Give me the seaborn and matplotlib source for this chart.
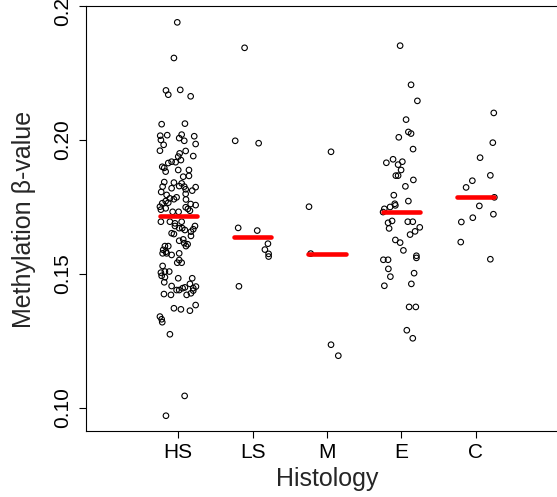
import numpy as np
import pandas as pd
import matplotlib
matplotlib.use('Agg')
import matplotlib.pyplot as plt
import seaborn as sns

# groups on the x axis
groups = ['HS', 'LS', 'M', 'E', 'C']

# methylation beta values per group
hs_vals = [0.2439, 0.2306, 0.2185, 0.2169, 0.2187, 0.2163, 0.2059, 0.2061, 0.2016, 0.2018,
           0.2020, 0.2007, 0.1997, 0.2014, 0.2000, 0.1982, 0.1985, 0.1960, 0.1950, 0.1959,
           0.1938, 0.1940, 0.1919, 0.1917, 0.1925, 0.1914, 0.1900, 0.1896, 0.1882, 0.1888,
           0.1888, 0.1863, 0.1866, 0.1843, 0.1841, 0.1838, 0.1826, 0.1828, 0.1826, 0.1816,
           0.1824, 0.1820, 0.1811, 0.1779, 0.1786, 0.1772, 0.1764, 0.1766, 0.1751, 0.1745,
           0.1749, 0.1761, 0.1757, 0.1732, 0.1732, 0.1736, 0.1806, 0.1799, 0.1782, 0.1778,
           0.1740, 0.1743, 0.1795,
           0.1695, 0.1695, 0.1689, 0.1695, 0.1679, 0.1671, 0.1671, 0.1664, 0.1679, 0.1667,
           0.1658, 0.1652, 0.1649, 0.1642, 0.1629, 0.1624, 0.1615, 0.1611, 0.1604, 0.1604,
           0.1604, 0.1590, 0.1583, 0.1577, 0.1577, 0.1571, 0.1577, 0.1552, 0.1542, 0.1542,
           0.1530, 0.1509, 0.1509, 0.1505, 0.1493, 0.1488, 0.1469, 0.1455, 0.1484, 0.1484,
           0.1463, 0.1450, 0.1447, 0.1440, 0.1440, 0.1447, 0.1453, 0.1438, 0.1428, 0.1422,
           0.1425, 0.1422, 0.1372, 0.1368, 0.1363, 0.1384, 0.1341, 0.1331, 0.1320, 0.1275,
           0.1045, 0.0971]
hs_jit = [-0.013, -0.058, -0.165, -0.134, 0.027, 0.167, -0.223, 0.090, -0.242, -0.148,
          0.046, 0.013, 0.081, 0.215, -0.233, -0.196, 0.234, -0.246, 0.019, 0.100,
          0.000, 0.202, -0.089, -0.035, 0.036, -0.134, -0.215, -0.188, -0.169, 0.000,
          0.144, 0.067, 0.144, -0.188, -0.058, 0.046, -0.210, 0.013, 0.081, 0.100,
          0.234, -0.089, 0.188, -0.058, -0.022, -0.169, -0.215, -0.134, -0.246, -0.169,
          0.100, 0.167, 0.234, -0.075, 0.005, 0.157, -0.229, 0.100, -0.112, 0.104,
          -0.233, 0.130, -0.156,
          -0.233, -0.112, -0.044, 0.046, -0.044, 0.013, 0.054, 0.090, 0.225, 0.202,
          0.171, -0.089, -0.058, 0.171, 0.067, 0.013, 0.081, 0.126, 0.104, -0.179,
          -0.134, -0.202, -0.165, -0.210, -0.156, -0.089, 0.013, 0.013, -0.013, 0.046,
          -0.210, -0.179, -0.121, -0.233, -0.223, -0.179, -0.188, -0.089, 0.000, 0.188,
          0.157, 0.090, 0.059, 0.013, -0.022, 0.202, 0.238, 0.202, 0.171, 0.113,
          -0.192, -0.098, -0.058, 0.036, 0.157, 0.234, -0.246, -0.223, -0.215, -0.112,
          0.086, -0.165]

ls_vals = [0.2344, 0.1997, 0.1988, 0.1672, 0.1662, 0.1613, 0.1591, 0.1575, 0.1565, 0.1454]
ls_jit = [-0.108, -0.234, 0.081, -0.194, 0.062, 0.206, 0.165, 0.215, 0.215, -0.184]

m_vals = [0.1956, 0.1751, 0.1576, 0.1236, 0.1195]
m_jit = [0.054, -0.242, -0.219, 0.054, 0.152]

e_vals = [0.2352, 0.2206, 0.2146, 0.2076, 0.2030, 0.2024, 0.2010, 0.1966, 0.1915, 0.1928,
          0.1919, 0.1908, 0.1888, 0.1867, 0.1867, 0.1851, 0.1827, 0.1794, 0.1772, 0.1762,
          0.1756, 0.1743, 0.1750, 0.1731, 0.1698, 0.1691, 0.1695, 0.1695, 0.1670, 0.1674,
          0.1659, 0.1647, 0.1627, 0.1617, 0.1588, 0.1568, 0.1560, 0.1553, 0.1553, 0.1519,
          0.1503, 0.1490, 0.1463, 0.1456, 0.1377, 0.1377, 0.1290, 0.1260]
e_jit = [-0.017, 0.130, 0.215, 0.063, 0.094, 0.130, -0.035, 0.157, -0.202, -0.112,
         0.013, -0.044, -0.004, -0.075, -0.044, 0.161, 0.054, -0.102, 0.094, -0.089,
         -0.081, -0.229, -0.152, -0.246, -0.125, -0.179, 0.086, 0.153, -0.165, 0.247,
         0.184, 0.117, -0.081, -0.017, 0.027, 0.202, 0.202, -0.242, -0.179, -0.175,
         0.171, -0.148, 0.134, -0.229, 0.104, 0.194, 0.073, 0.153]

c_vals = [0.2101, 0.1990, 0.1934, 0.1868, 0.1848, 0.1823, 0.1786, 0.1754, 0.1723, 0.1710,
          0.1694, 0.1619, 0.1555]
c_jit = [0.242, 0.229, 0.058, 0.196, -0.046, -0.130, 0.250, 0.048, 0.237, -0.040,
         -0.194, -0.202, 0.196]

# group medians (red bars)
medians = [0.1716, 0.1637, 0.1576, 0.1733, 0.1786]

yticks = [0.10, 0.15, 0.20, 0.25]

# build long table
parts = []
for i, (g, v, j) in enumerate(zip(groups, [hs_vals, ls_vals, m_vals, e_vals, c_vals],
                                  [hs_jit, ls_jit, m_jit, e_jit, c_jit])):
    parts.append(pd.DataFrame({'group': g, 'value': v, 'xpos': i + np.array(j)}))
df = pd.concat(parts, ignore_index=True)

sns.set_style('ticks')
plt.rcParams['font.family'] = ['Liberation Sans', 'DejaVu Sans']

fig = plt.figure(figsize=(5.57, 4.97), dpi=100)
ax = fig.add_axes([86 / 557, 66 / 497, 482 / 557, 425 / 497])

sns.scatterplot(data=df, x='xpos', y='value', marker='o', s=16,
                facecolor='none', edgecolor='black', linewidth=0.8,
                legend=False, ax=ax, zorder=2)

# median bars
ax.hlines(medians, np.arange(len(groups)) - 0.25, np.arange(len(groups)) + 0.25,
          colors='#ff0000', linewidth=3.3, capstyle='round', zorder=3)

ax.set_xlim(-1.24, 5.24)
ax.set_ylim(0.0914, 0.25)
ax.set_xticks(range(len(groups)))
ax.set_xticklabels(groups)
ax.set_yticks(yticks)
ax.set_yticklabels([f'{t:.2f}' for t in yticks], rotation=90, va='center')

for s in ax.spines.values():
    s.set_visible(True)
    s.set_linewidth(0.8)
    s.set_color('black')

ax.tick_params(direction='out', length=5, width=0.8, labelsize=15, colors='black')
ax.tick_params(axis='y', pad=5)
ax.tick_params(axis='x', pad=4)

ax.set_xlabel('Histology', fontsize=18, va='center')
ax.set_ylabel('Methylation β-value', fontsize=18, va='center')
ax.xaxis.set_label_coords((327 - 86) / 482, (431 - 479) / 425)
ax.yaxis.set_label_coords((24 - 86) / 482, (431 - 219) / 425)

fig.savefig('out.png', dpi=100)
